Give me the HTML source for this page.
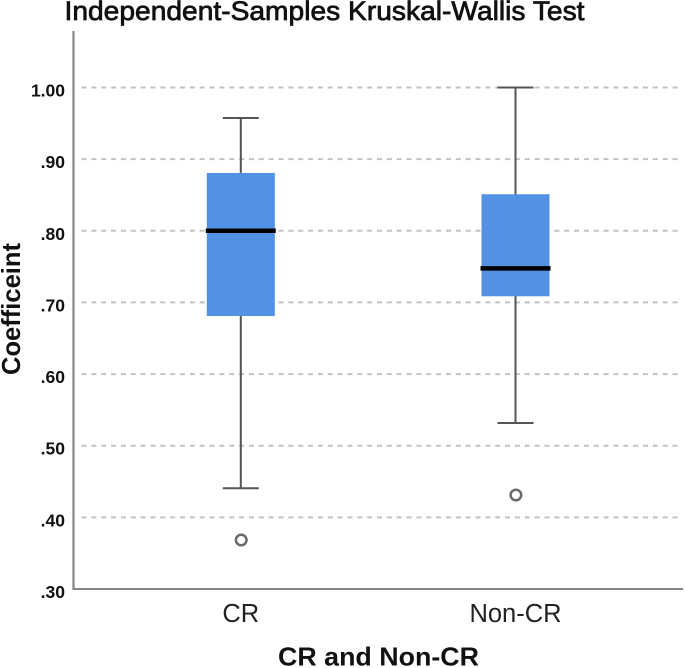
<!DOCTYPE html>
<html>
<head>
<meta charset="utf-8">
<style>
html,body{margin:0;padding:0;background:#fff;}
svg{display:block;}
text{font-family:"Liberation Sans",sans-serif;}
</style>
</head>
<body>
<svg id="chart" width="685" height="668" viewBox="0 0 685 668" xmlns="http://www.w3.org/2000/svg">
<text x="64.5" y="20" font-size="27" fill="#111" stroke="#111" stroke-width="0.75" textLength="520" lengthAdjust="spacingAndGlyphs">Independent-Samples Kruskal-Wallis Test</text>
<text transform="translate(20,375) rotate(-90)" font-size="26" font-weight="bold" fill="#111" textLength="132" lengthAdjust="spacingAndGlyphs">Coefficeint</text>
<text x="278" y="665.5" font-size="26" font-weight="bold" fill="#111" textLength="201" lengthAdjust="spacingAndGlyphs">CR and Non-CR</text>
<g id="grid"></g>
<g id="marks"></g>
</svg>
<script>
const categories = ['CR', 'Non-CR'];
const whiskerLow = [0.4406, 0.5317];
const q1 = [0.681, 0.7086];
const median = [0.8001, 0.7476];
const q3 = [0.8807, 0.851];
const whiskerHigh = [0.9575, 1.000];
const outliers = [0.3684, 0.4312];
const yTicks = [0.3, 0.4, 0.5, 0.6, 0.7, 0.8, 0.9, 1.0];
const yTickLabels = ['.30', '.40', '.50', '.60', '.70', '.80', '.90', '1.00'];

const NS = 'http://www.w3.org/2000/svg';
const grid = document.getElementById('grid');
const marks = document.getElementById('marks');
const plotLeft = 73.5, plotRight = 679, plotBottom = 589;
const y = v => 589 - (v - 0.3) * (589 - 87.5) / 0.7;
const x = i => 240.8 + i * (515.5 - 240.8);

function mk(parent, tag, attrs, txt) {
  const el = document.createElementNS(NS, tag);
  for (const k in attrs) el.setAttribute(k, attrs[k]);
  if (txt !== undefined) el.textContent = txt;
  parent.appendChild(el);
  return el;
}

yTicks.forEach((t, i) => {
  if (i > 0) {
    const g = mk(grid, 'line', {x1: 81.5, x2: plotRight, y1: y(t), y2: y(t), stroke: '#c2c2c2', 'stroke-width': 2, 'stroke-dasharray': '5 4.85'});
    
    
  }
  const lb = mk(grid, 'text', {x: 65, y: y(t) + 9, 'text-anchor': 'end', 'font-size': 17.5, 'font-weight': 'bold', fill: '#111'}, yTickLabels[i]);
  
  
});

const yAxis = mk(grid, 'line', {x1: plotLeft, x2: plotLeft, y1: 31, y2: plotBottom + 1, stroke: '#858585', 'stroke-width': 2.2});


const xAxis = mk(grid, 'line', {x1: plotLeft, x2: plotRight + 4, y1: plotBottom, y2: plotBottom, stroke: '#858585', 'stroke-width': 2});



categories.forEach((c, i) => {
  const cx = x(i), hw = 34, cap = 18;
  const stem = mk(marks, 'line', {x1: cx, x2: cx, y1: y(whiskerHigh[i]), y2: y(whiskerLow[i]), stroke: '#555', 'stroke-width': 2});
  
  
  const capHi = mk(marks, 'line', {x1: cx - cap, x2: cx + cap, y1: y(whiskerHigh[i]), y2: y(whiskerHigh[i]), stroke: '#555', 'stroke-width': 2});
  
  
  const capLo = mk(marks, 'line', {x1: cx - cap, x2: cx + cap, y1: y(whiskerLow[i]), y2: y(whiskerLow[i]), stroke: '#555', 'stroke-width': 2});
  
  
  const box = mk(marks, 'rect', {x: cx - hw, width: hw * 2, y: y(q3[i]), height: y(q1[i]) - y(q3[i]), fill: '#5291e3'});
  
  
  const med = mk(marks, 'line', {x1: cx - hw - 1, x2: cx + hw + 1, y1: y(median[i]), y2: y(median[i]), stroke: '#000', 'stroke-width': 4.5});
  
  
  const out = mk(marks, 'circle', {cx: cx + 0.4, cy: y(outliers[i]), r: 5.3, fill: '#fff', stroke: '#6a6a6a', 'stroke-width': 2.5});
  
  
  const lab = mk(marks, 'text', {x: cx, y: 622, 'text-anchor': 'middle', 'font-size': 25.5, fill: '#222'}, c);
  
  
});
</script>
</body>
</html>
